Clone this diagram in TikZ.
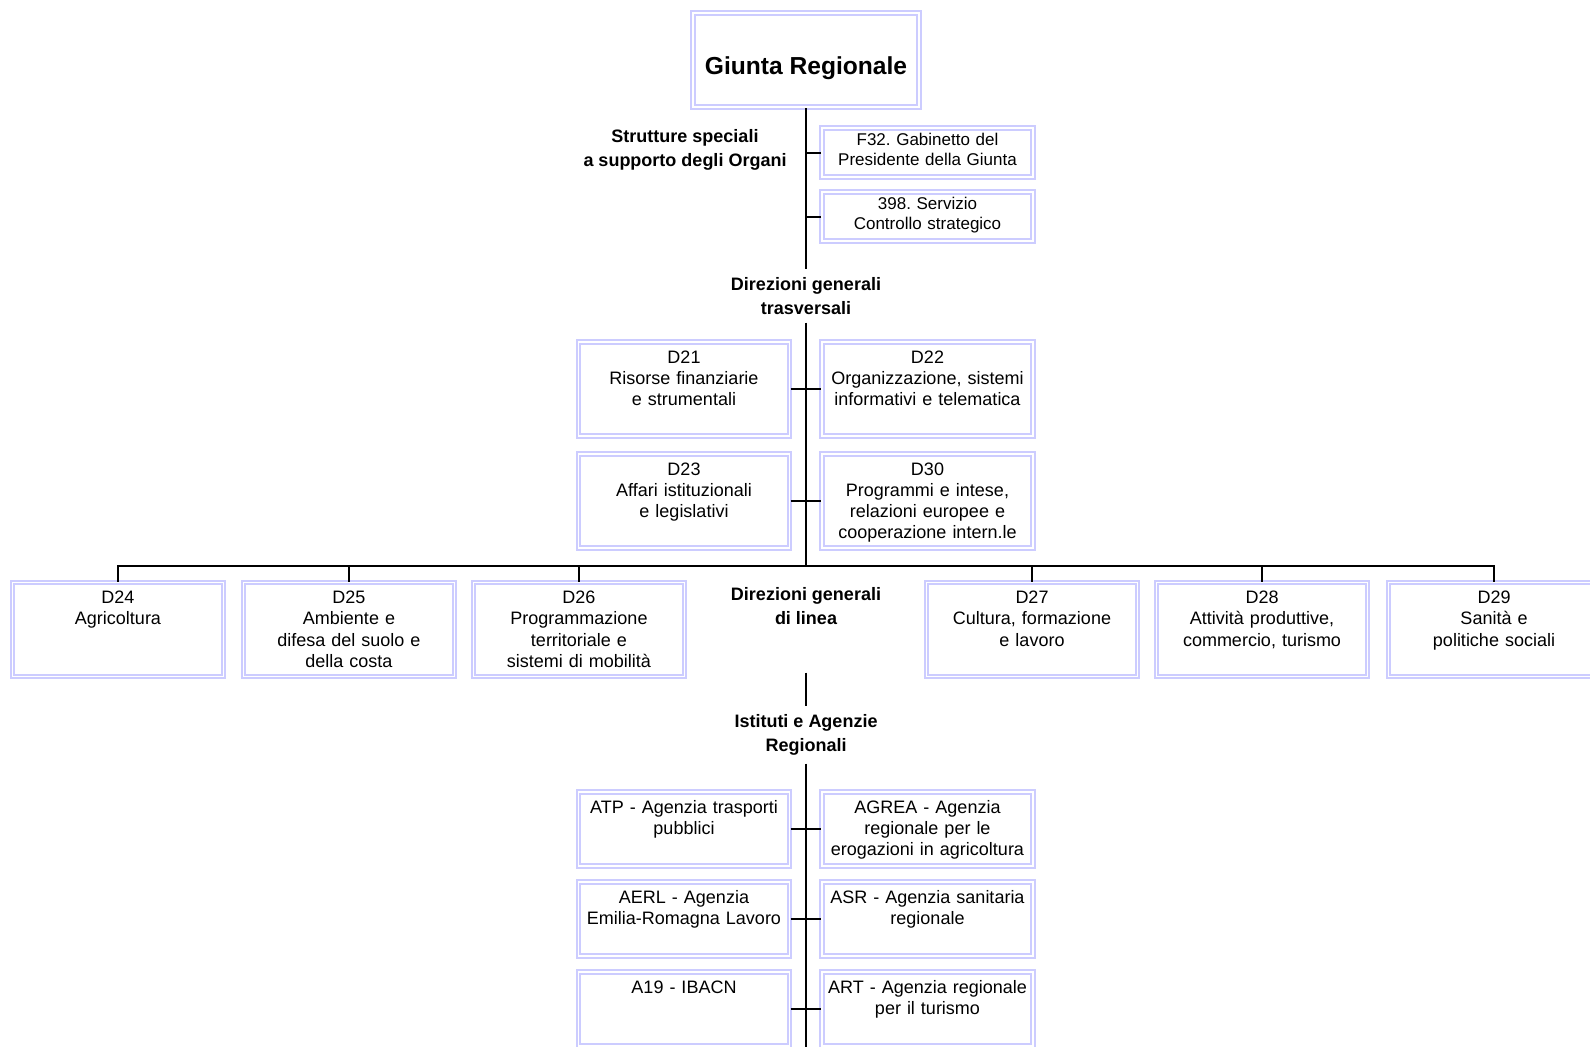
\documentclass[tikz,border=0pt]{standalone}
\usepackage{fontspec}
\setmainfont{Liberation Sans}
\usepackage{xcolor}
\usepackage{tikz}
\usetikzlibrary{positioning}
\definecolor{lavbox}{RGB}{204,204,255}
\frenchspacing

\begin{document}
\begin{tikzpicture}[x=0.5pt, y=-0.5pt]

    % Define style for boxes
    \tikzstyle{frame} = [rectangle, draw=lavbox, double=white, line width=1pt, double distance=0.8pt]
    \tikzstyle{head} = [frame, minimum width=113pt, minimum height=47pt, text height=14pt, text depth=0pt, font=\fontsize{12.3}{14}\selectfont\bfseries]
    \tikzstyle{unit} = [frame, text width=102pt, align=center, inner xsep=1.75pt, inner ysep=3.5pt, text height=7pt, text depth=33pt, minimum height=47pt, font=\fontsize{9}{10.65}\selectfont]
    \tikzstyle{agency} = [unit, minimum height=37pt, text depth=23pt]
    \tikzstyle{staff} = [unit, minimum height=24.5pt, inner ysep=2pt, text height=6.5pt, text depth=14pt, font=\fontsize{8.5}{10.2}\selectfont]
    \tikzstyle{group} = [align=center, inner sep=4pt, font=\fontsize{9}{11.7}\selectfont\bfseries]
    \tikzstyle{link} = [draw=black, line width=1pt]

    \useasboundingbox (0,0) rectangle (1590,1046);

    % Nodes
    \node (giunta) [head] at (806,60) {Giunta Regionale};

    \node (organi) [group] at (685,150) {Strutture speciali\\a supporto degli Organi};
    \node (f32) [staff] at (927.5,152.5) {F32. Gabinetto del\\Presidente della Giunta};
    \node (s398) [staff] at (927.5,216.5) {398. Servizio\\Controllo strategico};

    \node (trasv) [group] at (806,296) {Direzioni generali\\trasversali};
    \node (d21) [unit] at (684,389) {D21\\Risorse finanziarie\\e strumentali};
    \node (d22) [unit] at (927.5,389) {D22\\Organizzazione, sistemi\\informativi e telematica};
    \node (d23) [unit] at (684,501) {D23\\Affari istituzionali\\e legislativi};
    \node (d30) [unit] at (927.5,501) {D30\\Programmi e intese,\\relazioni europee e\\cooperazione intern.le};

    \coordinate (bar) at (806,566);
    \node (d24) [unit] at (118,629.5) {D24\\Agricoltura};
    \node (d25) [unit] at (349,629.5) {D25\\Ambiente e\\difesa del suolo e\\della costa};
    \node (d26) [unit] at (579,629.5) {D26\\Programmazione\\territoriale e\\sistemi di mobilità};
    \node (linea) [group] at (806,606) {Direzioni generali\\di linea};
    \node (d27) [unit] at (1032,629.5) {D27\\Cultura, formazione\\e lavoro};
    \node (d28) [unit] at (1262,629.5) {D28\\Attività produttive,\\commercio, turismo};
    \node (d29) [unit] at (1494,629.5) {D29\\Sanità e\\politiche sociali};

    \node (istituti) [group] at (806,735) {Istituti e Agenzie\\Regionali};
    \node (atp) [agency] at (684,829) {ATP - Agenzia trasporti\\pubblici};
    \node (agrea) [agency] at (927.5,829) {AGREA - Agenzia\\regionale per le\\erogazioni in agricoltura};
    \node (aerl) [agency] at (684,919) {AERL - Agenzia\\Emilia-Romagna Lavoro};
    \node (asr) [agency] at (927.5,919) {ASR - Agenzia sanitaria\\regionale};
    \node (a19) [agency] at (684,1009) {A19 - IBACN};
    \node (art) [agency] at (927.5,1009) {ART - Agenzia regionale\\per il turismo};

    % Lines
    \draw[link] (giunta) -- (trasv);
    \draw[link] (f32.west) -- (f32.west -| giunta.south);
    \draw[link] (s398.west) -- (s398.west -| giunta.south);

    \draw[link] (trasv) -- (bar);
    \draw[link] (d21) -- (d22);
    \draw[link] (d23) -- (d30);

    \draw[link] (d24.north) |- (bar) -| (d29.north);
    \foreach \dir in {d25,d26,d27,d28}
        \draw[link] (\dir.north) -- (\dir.north |- bar);

    \draw[link, shorten <=20pt] (linea) -- (istituti);
    \draw[link] (istituti) -- (istituti |- a19.south);
    \draw[link] (atp) -- (agrea);
    \draw[link] (aerl) -- (asr);
    \draw[link] (a19) -- (art);

\end{tikzpicture}
\end{document}
